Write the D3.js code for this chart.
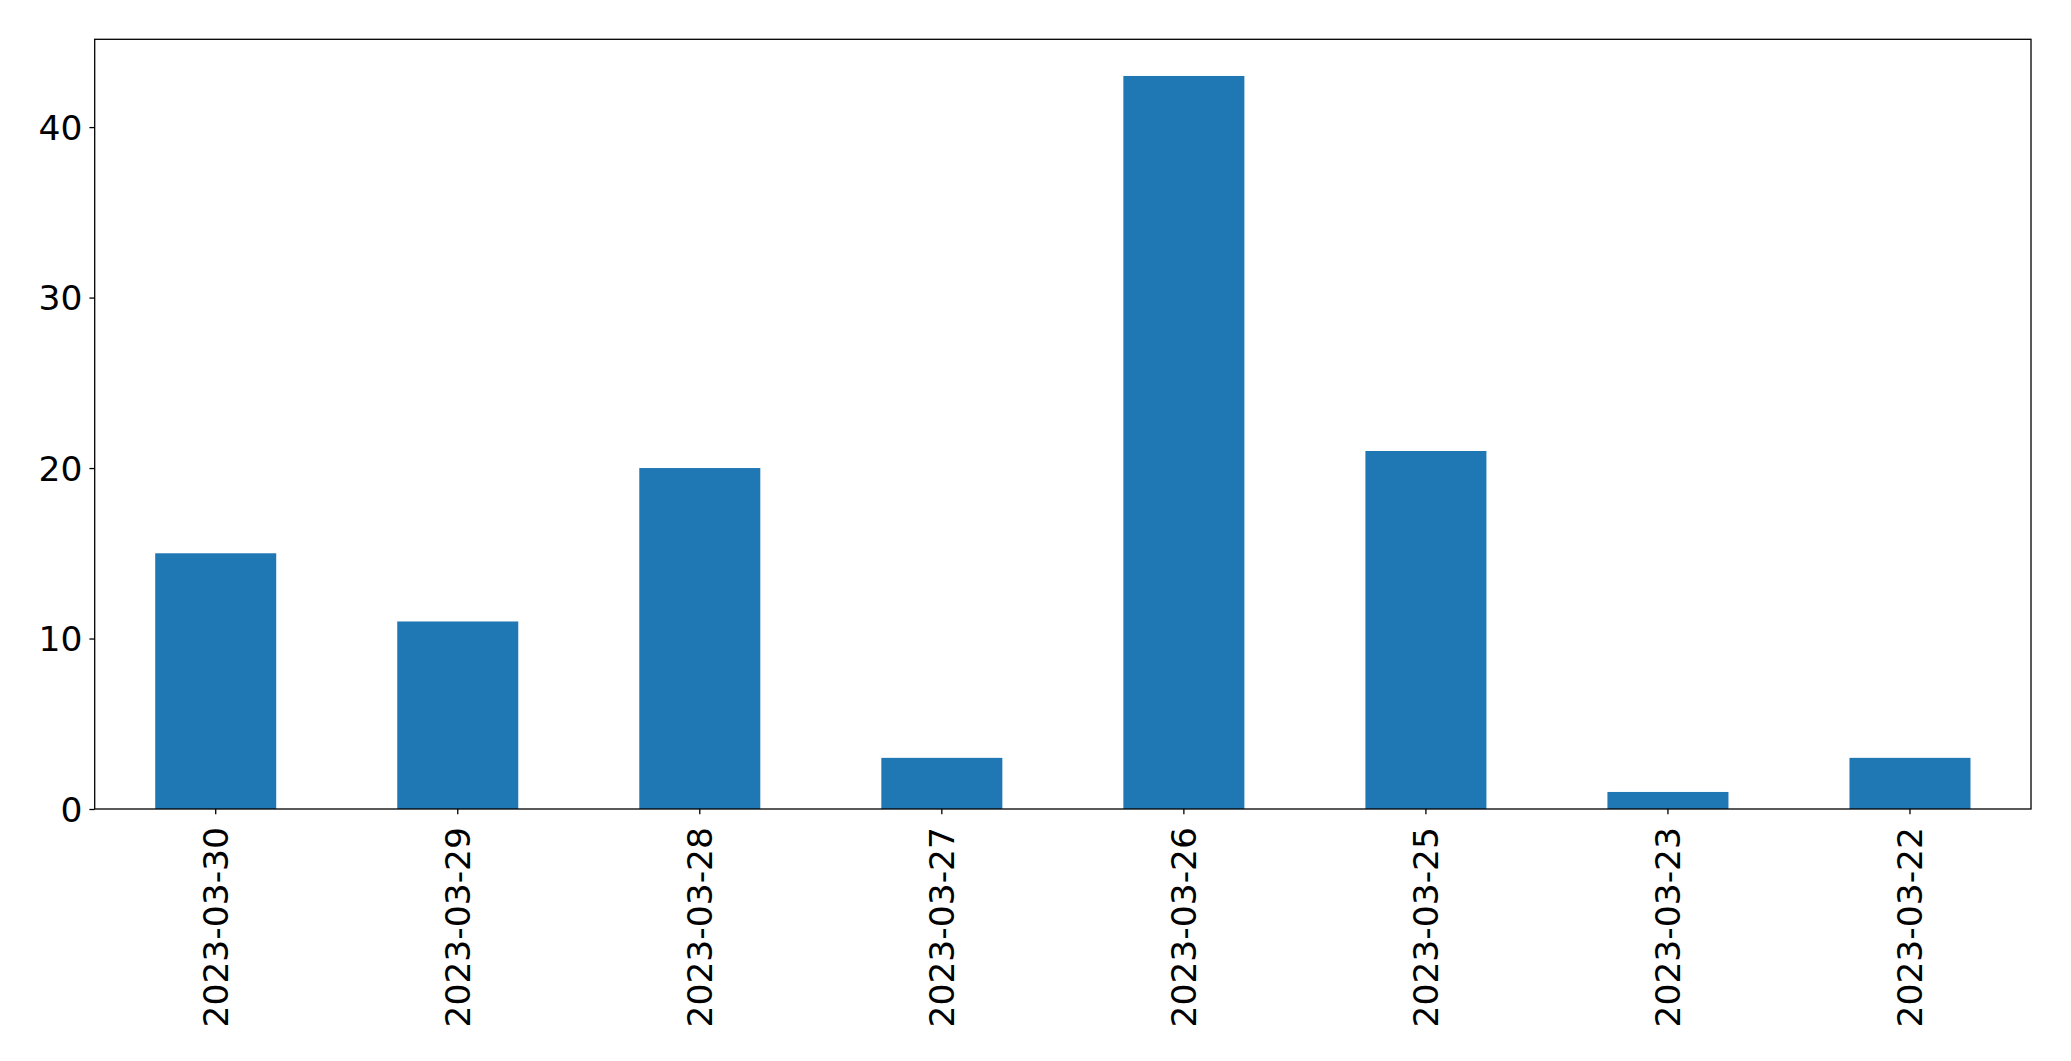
<!DOCTYPE html>
<html><head><meta charset="utf-8">
<script src="https://cdn.jsdelivr.net/npm/d3@7"></script>
<style>
html,body{margin:0;padding:0;background:#fff;}
svg{display:block;}
</style></head>
<body>
<svg id="chart" width="2071" height="1061"></svg>
<script>
const categories = ["2023-03-30","2023-03-29","2023-03-28","2023-03-27","2023-03-26","2023-03-25","2023-03-23","2023-03-22"];
const values = [15, 11, 20, 3, 43, 21, 1, 3];
const yTicks = [0, 10, 20, 30, 40];

const W = 2071, H = 1061;
const m = {left: 94.7, right: 2071 - 2031, top: 39.3, bottom: 1061 - 809};
const iw = W - m.left - m.right, ih = H - m.top - m.bottom;
const font = "DejaVu Sans, sans-serif";
const fs = 34.5;

const svg = d3.select("#chart");
const g = svg.append("g").attr("transform", `translate(${m.left},${m.top})`);

const x = d3.scaleBand().domain(categories).range([0, iw]).paddingInner(0.5).paddingOuter(0.25);
const yMax = d3.max(values) * 1.05;
const y = d3.scaleLinear().domain([0, yMax]).range([ih, 0]);

g.selectAll("rect.bar").data(values).join("rect")
  .attr("class", "bar")
  .attr("x", (d, i) => x(categories[i]))
  .attr("width", x.bandwidth())
  .attr("y", d => y(d))
  .attr("height", d => y(0) - y(d))
  .attr("fill", "#1f77b4");

// y axis
const yAxis = g.append("g").call(d3.axisLeft(y).tickValues(yTicks).tickSize(5.3).tickPadding(7).tickFormat(d3.format("d")));
yAxis.select(".domain").remove();
yAxis.selectAll("line").attr("stroke", "#000").attr("stroke-width", 1.3);
yAxis.selectAll("text").attr("font-family", font).attr("font-size", fs).attr("fill", "#000").attr("dy", "0.36em");

// x axis
const xAxis = g.append("g").attr("transform", `translate(0,${ih})`).call(d3.axisBottom(x).tickSize(5.3).tickPadding(0));
xAxis.select(".domain").remove();
xAxis.selectAll("line").attr("stroke", "#000").attr("stroke-width", 1.3);
xAxis.selectAll("text")
  .attr("font-family", font).attr("font-size", fs).attr("fill", "#000")
  .attr("text-anchor", "end")
  .attr("transform", "translate(0,18) rotate(-90)")
  .attr("x", 0).attr("y", 0).attr("dy", "0.36em");

// frame
g.append("rect").attr("x", 0).attr("y", 0).attr("width", iw).attr("height", ih)
  .attr("fill", "none").attr("stroke", "#000").attr("stroke-width", 1.3);
</script>
</body></html>
